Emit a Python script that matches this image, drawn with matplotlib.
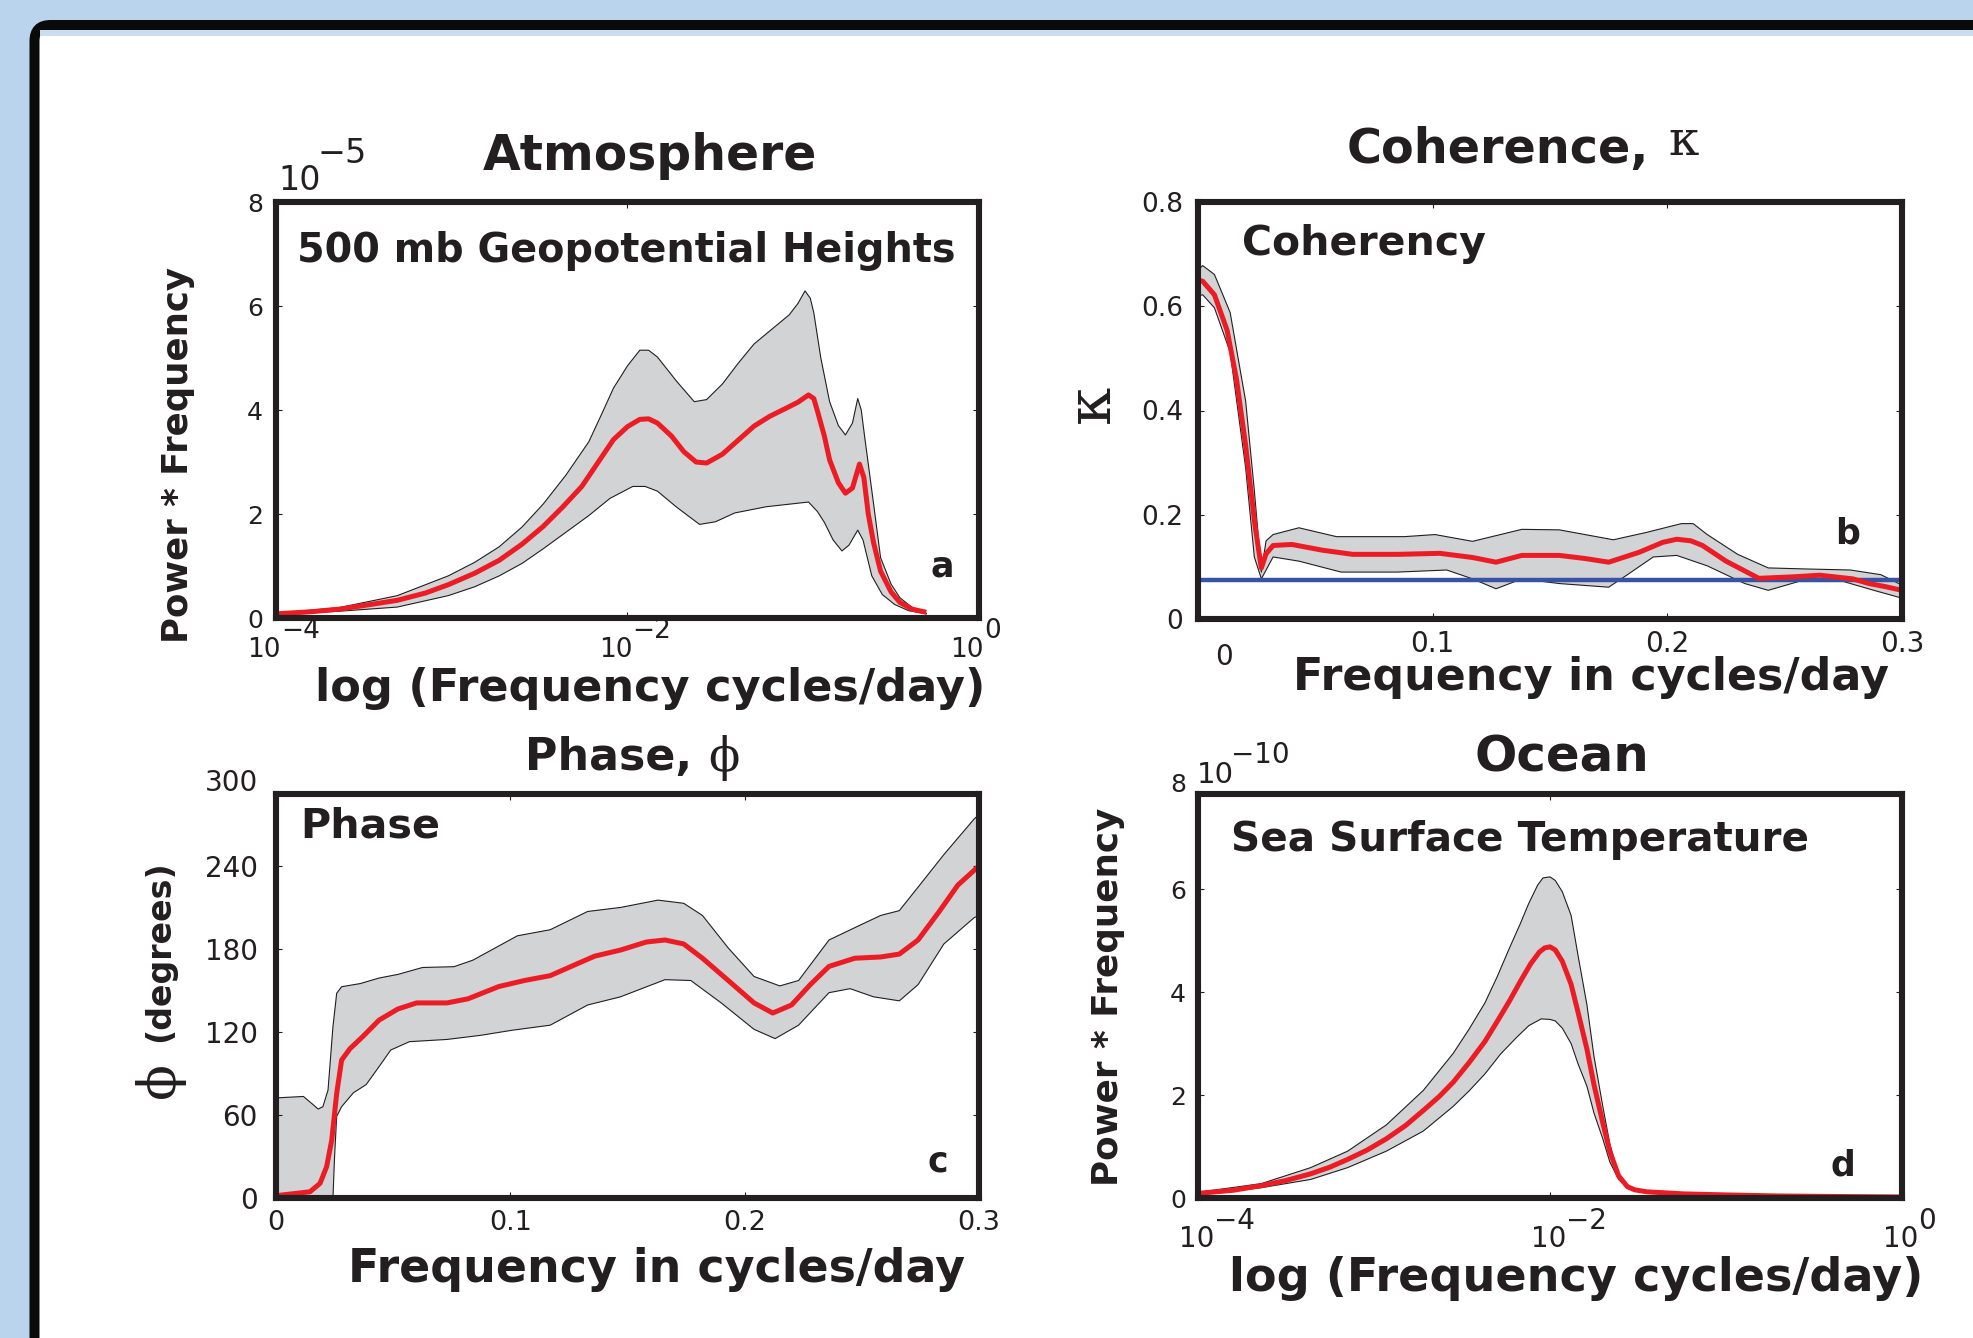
import numpy as np
import matplotlib
matplotlib.use("Agg")
import matplotlib.pyplot as plt
from matplotlib.patches import FancyBboxPatch, Rectangle
from matplotlib.transforms import IdentityTransform, blended_transform_factory, ScaledTranslation
from matplotlib.ticker import NullLocator

# ---------------- data ----------------
# Panel a: Atmosphere, 500 mb geopotential heights (x = log10 frequency, y in 1e-5)
a_mean_logf = [-4.0, -3.8, -3.64, -3.5, -3.31, -3.15, -3.02, -2.87, -2.73, -2.6, -2.48, -2.37,
               -2.26, -2.17, -2.08, -2.0, -1.93, -1.88, -1.83, -1.75, -1.68, -1.61, -1.55, -1.46,
               -1.37, -1.28, -1.19, -1.10, -1.03, -0.97, -0.94, -0.92, -0.88, -0.85, -0.80, -0.76,
               -0.72, -0.68, -0.655, -0.63, -0.60, -0.56, -0.50, -0.45, -0.38, -0.30]
a_mean = [0.08, 0.12, 0.17, 0.24, 0.34, 0.48, 0.64, 0.86, 1.11, 1.42, 1.76, 2.13,
          2.53, 2.98, 3.43, 3.68, 3.82, 3.83, 3.75, 3.50, 3.20, 3.00, 2.98, 3.15,
          3.42, 3.69, 3.88, 4.03, 4.15, 4.29, 4.22, 3.99, 3.50, 3.04, 2.60, 2.40,
          2.50, 2.96, 2.70, 2.00, 1.45, 0.90, 0.50, 0.30, 0.17, 0.11]
a_up_logf = [-4.0, -3.64, -3.31, -3.02, -2.87, -2.73, -2.6, -2.48, -2.35, -2.22, -2.15, -2.08,
             -2.0, -1.93, -1.88, -1.83, -1.72, -1.62, -1.55, -1.46, -1.37, -1.28, -1.18, -1.08,
             -1.03, -0.99, -0.96, -0.94, -0.90, -0.85, -0.80, -0.76, -0.72, -0.69, -0.67, -0.65,
             -0.60, -0.56, -0.50, -0.45, -0.38, -0.30]
a_up = [0.09, 0.20, 0.43, 0.81, 1.07, 1.37, 1.75, 2.19, 2.75, 3.39, 3.90, 4.42,
        4.85, 5.15, 5.15, 5.02, 4.55, 4.16, 4.20, 4.50, 4.90, 5.27, 5.55, 5.83,
        6.05, 6.29, 6.15, 5.87, 5.00, 4.16, 3.70, 3.52, 3.75, 4.22, 4.00, 3.47,
        2.20, 1.16, 0.65, 0.39, 0.20, 0.09]
a_lo_logf = [-4.0, -3.64, -3.31, -3.02, -2.87, -2.73, -2.6, -2.48, -2.35, -2.22, -2.1, -1.97,
             -1.90, -1.83, -1.72, -1.59, -1.50, -1.39, -1.21, -1.05, -0.97, -0.92, -0.88, -0.83,
             -0.78, -0.74, -0.69, -0.66, -0.61, -0.55, -0.48, -0.40, -0.30]
a_lo = [0.07, 0.13, 0.21, 0.43, 0.60, 0.81, 1.05, 1.33, 1.65, 1.97, 2.30, 2.53,
        2.53, 2.44, 2.13, 1.80, 1.85, 2.02, 2.14, 2.20, 2.23, 2.05, 1.84, 1.50,
        1.29, 1.40, 1.69, 1.50, 0.81, 0.45, 0.26, 0.14, 0.08]

# Panel b: coherency
b_mean_f = [0.0, 0.002, 0.007, 0.0124, 0.0164, 0.0203, 0.0243, 0.027, 0.029, 0.032, 0.040, 0.053,
            0.066, 0.085, 0.103, 0.117, 0.127, 0.138, 0.154, 0.165, 0.175, 0.188, 0.198, 0.204,
            0.210, 0.215, 0.225, 0.239, 0.254, 0.265, 0.279, 0.286, 0.293, 0.300]
b_mean = [0.650, 0.648, 0.622, 0.554, 0.460, 0.333, 0.179, 0.098, 0.125, 0.141, 0.143, 0.132,
          0.124, 0.124, 0.126, 0.118, 0.109, 0.122, 0.122, 0.116, 0.109, 0.128, 0.147, 0.153,
          0.150, 0.141, 0.111, 0.078, 0.081, 0.084, 0.077, 0.068, 0.062, 0.055]
b_up_f = [0.0, 0.002, 0.007, 0.0137, 0.0203, 0.024, 0.027, 0.029, 0.032, 0.043, 0.059, 0.088,
          0.101, 0.117, 0.138, 0.154, 0.177, 0.191, 0.206, 0.211, 0.217, 0.230, 0.243, 0.259,
          0.278, 0.291, 0.300]
b_up = [0.670, 0.678, 0.661, 0.588, 0.418, 0.247, 0.090, 0.150, 0.162, 0.175, 0.158, 0.158,
        0.162, 0.149, 0.172, 0.171, 0.152, 0.166, 0.183, 0.183, 0.162, 0.124, 0.098, 0.096,
        0.094, 0.085, 0.065]
b_lo_f = [0.0, 0.002, 0.007, 0.0137, 0.0203, 0.024, 0.027, 0.032, 0.043, 0.061, 0.085, 0.106,
          0.117, 0.127, 0.138, 0.154, 0.175, 0.183, 0.194, 0.204, 0.217, 0.233, 0.243, 0.256,
          0.275, 0.288, 0.300]
b_lo = [0.620, 0.622, 0.597, 0.512, 0.290, 0.119, 0.077, 0.119, 0.111, 0.090, 0.090, 0.094,
        0.077, 0.058, 0.077, 0.068, 0.061, 0.085, 0.119, 0.122, 0.102, 0.068, 0.055, 0.072,
        0.072, 0.055, 0.040]
b_threshold = 0.074

# Panel c: phase (degrees)
c_mean_f = [0.0, 0.0017, 0.0145, 0.0188, 0.0216, 0.0238, 0.0259, 0.028, 0.0316, 0.037, 0.044,
            0.052, 0.060, 0.073, 0.082, 0.095, 0.106, 0.117, 0.128, 0.136, 0.147, 0.158, 0.166,
            0.174, 0.182, 0.193, 0.204, 0.212, 0.220, 0.228, 0.236, 0.247, 0.258, 0.266, 0.274,
            0.283, 0.291, 0.300]
c_mean = [1.0, 2.0, 4.5, 10.6, 22.6, 42.0, 75.6, 99.7, 108.0, 116.6, 128.6,
          136.6, 141.0, 141.0, 144.0, 152.8, 157.2, 160.7, 168.9, 174.8, 179.2, 185.0, 186.5,
          183.6, 173.3, 157.2, 141.0, 133.7, 139.5, 154.2, 167.4, 173.3, 174.2, 176.3, 186.5,
          207.0, 226.2, 240.0]
c_up_f = [0.0, 0.0017, 0.0117, 0.0152, 0.018, 0.020, 0.0222, 0.0243, 0.0259, 0.028, 0.036, 0.044,
          0.052, 0.0625, 0.076, 0.084, 0.103, 0.117, 0.133, 0.147, 0.163, 0.174, 0.182, 0.193,
          0.204, 0.215, 0.223, 0.236, 0.247, 0.258, 0.266, 0.274, 0.285, 0.298, 0.300]
c_up = [72.5, 72.5, 73.4, 68.4, 64.3, 66.0, 78.0, 123.8, 148.0, 152.7, 155.0, 159.0,
        161.6, 166.6, 167.2, 171.9, 189.5, 193.9, 207.1, 210.0, 215.3, 213.0, 204.2, 180.7,
        160.1, 153.3, 157.2, 186.5, 195.4, 204.2, 207.7, 224.7, 248.2, 274.1, 277.0]
c_lo_f = [0.0, 0.0243, 0.0250, 0.0259, 0.028, 0.033, 0.0385, 0.044, 0.049, 0.057, 0.073, 0.087,
          0.101, 0.117, 0.133, 0.147, 0.166, 0.177, 0.190, 0.204, 0.213, 0.223, 0.236, 0.245,
          0.255, 0.266, 0.274, 0.285, 0.298, 0.300]
c_lo = [0.0, 0.0, 30.0, 59.0, 66.0, 76.0, 82.0, 95.0, 107.0, 113.0, 114.6, 117.5,
        121.3, 124.9, 139.5, 145.4, 157.8, 157.2, 141.0, 121.9, 115.2, 124.9, 148.4, 151.3,
        145.4, 142.5, 154.2, 183.6, 202.7, 204.0]

# Panel d: Ocean, sea surface temperature (x = log10 frequency, y in 1e-10)
d_mean_logf = [-4.0, -3.8, -3.64, -3.5, -3.36, -3.25, -3.15, -3.04, -2.93, -2.82, -2.72, -2.63,
               -2.55, -2.46, -2.37, -2.30, -2.23, -2.17, -2.11, -2.06, -2.03, -2.0, -1.97, -1.93,
               -1.88, -1.84, -1.79, -1.75, -1.70, -1.66, -1.61, -1.56, -1.52, -1.45, -1.24, -1.0,
               -0.71, -0.4, 0.0]
d_mean = [0.09, 0.15, 0.24, 0.34, 0.47, 0.60, 0.75, 0.93, 1.15, 1.41, 1.70, 1.97,
          2.25, 2.63, 3.04, 3.43, 3.83, 4.20, 4.55, 4.78, 4.86, 4.88, 4.82, 4.60,
          4.15, 3.60, 2.89, 2.20, 1.46, 0.90, 0.43, 0.22, 0.16, 0.12, 0.08, 0.06,
          0.04, 0.03, 0.02]
d_up_logf = [-4.0, -3.64, -3.36, -3.15, -2.93, -2.72, -2.55, -2.46, -2.37, -2.30, -2.23, -2.17,
             -2.12, -2.07, -2.04, -2.0, -1.97, -1.93, -1.88, -1.84, -1.79, -1.75, -1.70, -1.66,
             -1.61, -1.56, -1.52, -1.45, -1.24, -1.0, -0.71, -0.4, 0.0]
d_up = [0.11, 0.28, 0.59, 0.91, 1.42, 2.09, 2.81, 3.28, 3.79, 4.30, 4.86, 5.32,
        5.73, 6.08, 6.22, 6.24, 6.17, 5.95, 5.49, 4.70, 3.75, 2.75, 1.78, 1.05,
        0.45, 0.24, 0.17, 0.13, 0.09, 0.07, 0.05, 0.035, 0.025]
d_lo_logf = [-4.0, -3.64, -3.36, -3.15, -2.93, -2.72, -2.55, -2.46, -2.37, -2.28, -2.19, -2.12,
             -2.05, -2.0, -1.97, -1.93, -1.88, -1.84, -1.79, -1.75, -1.70, -1.66, -1.61, -1.56,
             -1.52, -1.45, -1.24, -1.0, -0.71, -0.4, 0.0]
d_lo = [0.07, 0.20, 0.36, 0.59, 0.91, 1.30, 1.78, 2.08, 2.41, 2.80, 3.12, 3.35,
        3.48, 3.47, 3.44, 3.30, 3.00, 2.60, 2.17, 1.65, 1.15, 0.70, 0.36, 0.20,
        0.14, 0.10, 0.07, 0.05, 0.035, 0.025, 0.015]

# tick labels
a_yticks = [0, 2, 4, 6, 8]
log_ticks = [1e-4, 1e-2, 1e0]
log_exps = ["\u22124", "\u22122", "0"]
b_yticks = [0, 0.2, 0.4, 0.6, 0.8]
b_ylabels = ["0", "0.2", "0.4", "0.6", "0.8"]
b_xticks = [0, 0.1, 0.2, 0.3]
b_xlabels = ["", "0.1", "0.2", "0.3"]
c_yticks = [0, 60, 120, 180, 240]
c_xticks = [0, 0.1, 0.2, 0.3]
c_xlabels = ["0", "0.1", "0.2", "0.3"]
d_yticks = [0, 2, 4, 6]

# ---------------- style ----------------
W, H = 1974, 1338
BG = "#b9d4ec"
INK = "#231f20"
FILL = "#d1d3d4"
RED = "#ec1c24"
BLUE = "#3953a4"
BOLD = "DejaVu Sans"
TICKF = "DejaVu Sans"
SERIF = "DejaVu Serif"

fig = plt.figure(figsize=(W / 100, H / 100), dpi=100)
fig.patch.set_facecolor(BG)
renderer = fig.canvas.get_renderer()

# white card with black rounded border
card = FancyBboxPatch((34.5, -100), 2300, H - 25 + 100,
                      boxstyle="round,pad=0,rounding_size=16",
                      transform=IdentityTransform(), facecolor="white",
                      edgecolor="#0a0a0a", linewidth=10 * 0.72, zorder=0)
fig.add_artist(card)
fig.add_artist(Rectangle((40, H - 36), 2300, 6, transform=IdentityTransform(),
                         facecolor="#c9def1", edgecolor="none", zorder=0.5))


def fx(x):
    return x / W


def fy(y):
    return 1 - y / H


def put(x, y, s, size, family, weight="normal", ha="left", va="baseline", rotation=0):
    return fig.text(fx(x), fy(y), s, fontsize=size, family=family, weight=weight,
                    ha=ha, va=va, rotation=rotation, color=INK)


def fit(x, y, s, length, ha="left", va="baseline", rotation=0):
    t = put(x, y, s, 30, BOLD, "bold", ha, va, rotation)
    bb = t.get_window_extent(renderer)
    cur = bb.height if rotation == 90 else bb.width
    t.set_fontsize(30 * length / cur)
    return t


def rect(l, t, r, b):
    return [l / W, 1 - b / H, (r - l) / W, (b - t) / H]


def style_axes(ax, ysize, ypad, xsize=None, xpad=8.6):
    for s in ax.spines.values():
        s.set_linewidth(4.4)
        s.set_color(INK)
        s.set_zorder(5)
    ax.tick_params(which="both", direction="in", top=True, right=True,
                   length=4.5, width=0.8, color=INK)
    ax.tick_params(axis="y", labelsize=ysize, pad=ypad, labelcolor=INK)
    ax.tick_params(axis="x", labelsize=xsize or ysize, pad=xpad, labelcolor=INK)
    for lab in ax.get_yticklabels() + ax.get_xticklabels():
        lab.set_family(TICKF)


def band(ax, xu, yu, xl, yl, xm, ym):
    ax.fill(np.r_[xu, xl[::-1]], np.r_[yu, yl[::-1]], color=FILL, lw=0, zorder=1)
    ax.plot(xu, yu, color=INK, lw=0.8, zorder=1.5, solid_joinstyle="round")
    ax.plot(xl, yl, color=INK, lw=0.8, zorder=1.5, solid_joinstyle="round")
    ax.plot(xm, ym, color=RED, lw=3.6, zorder=3, solid_capstyle="butt", solid_joinstyle="round")


def log_labels(ax, y_base, y_exp, dx_base, dx_exp, size):
    tr = blended_transform_factory(ax.transData, fig.transFigure)
    for t, e in zip(log_ticks, log_exps):
        ax.text(t, fy(y_base), "10", transform=tr + ScaledTranslation(dx_base / 100, 0, fig.dpi_scale_trans),
                ha="right", va="baseline", fontsize=size, family=TICKF, color=INK, clip_on=False)
        ax.text(t, fy(y_exp), e, transform=tr + ScaledTranslation(dx_exp / 100, 0, fig.dpi_scale_trans),
                ha="left", va="baseline", fontsize=size, family=TICKF, color=INK, clip_on=False)


# ---------------- panel a ----------------
axA = fig.add_axes(rect(276, 202, 979, 618))
band(axA, 10 ** np.array(a_up_logf), np.array(a_up), 10 ** np.array(a_lo_logf), np.array(a_lo),
     10 ** np.array(a_mean_logf), np.array(a_mean))
axA.set_xscale("log")
axA.set_xlim(1e-4, 1)
axA.set_ylim(0, 8)
axA.set_xticks(log_ticks)
axA.xaxis.set_minor_locator(NullLocator())
axA.set_xticklabels([])
axA.set_yticks(a_yticks)
axA.set_yticklabels([str(v) for v in a_yticks])
style_axes(axA, 18, 9.4)
log_labels(axA, 657, 638, 5, 5, 19)
put(278, 190, "10", 24, TICKF)
put(318, 163, "\u22125", 24, TICKF)

# ---------------- panel b ----------------
axB = fig.add_axes(rect(1198, 202, 1902, 619))
band(axB, np.array(b_up_f), np.array(b_up), np.array(b_lo_f), np.array(b_lo),
     np.array(b_mean_f), np.array(b_mean))
axB.axhline(b_threshold, color=BLUE, lw=3.2, zorder=2.5)
axB.set_xlim(0, 0.3)
axB.set_ylim(0, 0.8)
axB.set_yticks(b_yticks)
axB.set_yticklabels(b_ylabels)
axB.set_xticks(b_xticks)
axB.set_xticklabels(b_xlabels)
style_axes(axB, 19, 10.8, xsize=20, xpad=8.0)
put(1224, 643, "0", 20, TICKF, ha="center", va="top")

# ---------------- panel c ----------------
axC = fig.add_axes(rect(276, 794, 979, 1198))
band(axC, np.array(c_up_f), np.array(c_up), np.array(c_lo_f), np.array(c_lo),
     np.array(c_mean_f), np.array(c_mean))
axC.set_xlim(0, 0.3)
axC.set_ylim(0, 292)
axC.set_yticks(c_yticks)
axC.set_yticklabels([str(v) for v in c_yticks])
axC.set_xticks(c_xticks)
axC.set_xticklabels(c_xlabels)
style_axes(axC, 20, 13.0, xsize=19.5, xpad=8.6)
put(258, 783, "300", 20, TICKF, ha="right", va="center")

# ---------------- panel d ----------------
axD = fig.add_axes(rect(1198, 794, 1902, 1198))
band(axD, 10 ** np.array(d_up_logf), np.array(d_up), 10 ** np.array(d_lo_logf), np.array(d_lo),
     10 ** np.array(d_mean_logf), np.array(d_mean))
axD.set_xscale("log")
axD.set_xlim(1e-4, 1)
axD.set_ylim(0, 7.85)
axD.set_xticks(log_ticks)
axD.xaxis.set_minor_locator(NullLocator())
axD.set_xticklabels([])
axD.set_yticks(d_yticks)
axD.set_yticklabels([str(v) for v in d_yticks])
style_axes(axD, 18, 8.6)
log_labels(axD, 1247, 1229, 16, 16, 20)
put(1186, 785, "8", 18, TICKF, ha="right", va="center")
put(1197, 783, "10", 21, TICKF)
put(1231, 763, "\u221210", 20, TICKF)

# ---------------- titles & labels ----------------
fit(483, 170, "Atmosphere", 334)
fit(1347, 163, "Coherence,", 303)
put(1668, 155, "\u03ba", 35, SERIF)
fit(525, 770, "Phase,", 167)
put(708, 771, "\u03d5", 33, SERIF)
fit(1475, 772, "Ocean", 175)

fit(297, 262, "500 mb Geopotential Heights", 658)
fit(1242, 255, "Coherency", 243)
fit(300, 838, "Phase", 140)
fit(1231, 851, "Sea Surface Temperature", 578)

put(931, 577, "a", 25, BOLD, "bold")
put(1835, 544, "b", 25, BOLD, "bold")
put(928, 1172, "c", 25, BOLD, "bold")
put(1831, 1176, "d", 25, BOLD, "bold")

fit(315, 701, "log (Frequency cycles/day)", 670)
fit(1293, 690, "Frequency in cycles/day", 595)
fit(348, 1282, "Frequency in cycles/day", 615)
fit(1229, 1291, "log (Frequency cycles/day)", 693)

fit(178, 455, "Power * Frequency", 375, ha="center", va="center", rotation=90)
put(1092, 404, "\u03ba", 44, SERIF, ha="center", va="center", rotation=90)
fit(160, 951, "(degrees)", 182, ha="center", va="center", rotation=90)
put(160, 1080, "\u03d5", 38, SERIF, ha="center", va="center", rotation=90)
fit(1108, 997, "Power * Frequency", 378, ha="center", va="center", rotation=90)

fig.savefig("out.png", dpi=100, facecolor=fig.get_facecolor())
